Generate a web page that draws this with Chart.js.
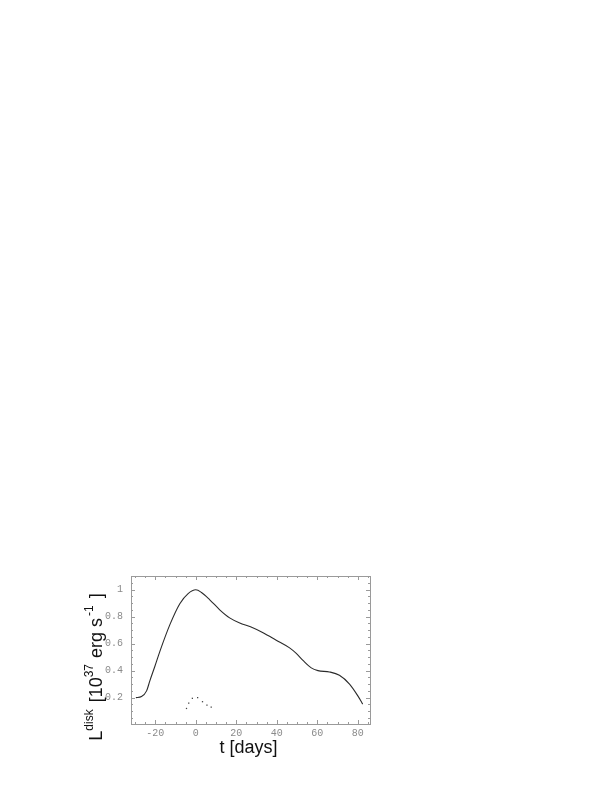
<!DOCTYPE html>
<html>
<head>
<meta charset="utf-8">
<script src="https://cdn.jsdelivr.net/npm/chart.js@4.4.1/dist/chart.umd.min.js"></script>
<style>
  html, body { margin: 0; padding: 0; background: #fff; }
  canvas { display: block; }
</style>
</head>
<body>
<canvas id="diskChart" width="612" height="794"></canvas>
<script>
// light curve, days vs disk luminosity (1e37 erg/s)
const tDays = [-29.6, -26.8, -24.3, -22.7, -20.2, -17.7, -12.8, -7.9, -3.8, 0, 2.8, 6.9, 11.8,
  16.7, 21.7, 27, 33.2, 39.7, 46.3, 49.6, 52.9, 57, 60.3, 66, 70.9, 75.9, 80, 82.4];
const lDisk = [0.2, 0.208, 0.25, 0.324, 0.432, 0.544, 0.74, 0.895, 0.97, 0.998, 0.978, 0.924, 0.85,
  0.79, 0.752, 0.724, 0.68, 0.625, 0.568, 0.527, 0.475, 0.42, 0.4, 0.39, 0.365, 0.3, 0.213, 0.152];

// small dotted bump
const tDots = [-4.6, -3.5, -1.7, 0.9, 3.3, 5.5, 7.6];
const lDots = [0.12, 0.16, 0.195, 0.2, 0.17, 0.145, 0.13];

const xMajor = [-20, 0, 20, 40, 60, 80];
const xMinor = [-30, -25, -15, -10, -5, 5, 10, 15, 25, 30, 35, 45, 50, 55, 65, 70, 75, 85];
const yMajor = [0.2, 0.4, 0.6, 0.8, 1];
const yMinor = [0.05, 0.1, 0.15, 0.25, 0.3, 0.35, 0.45, 0.5, 0.55, 0.65, 0.7, 0.75, 0.85, 0.9, 0.95, 1.05];

const frameColor = '#9a9a9a';

// frame with inward ticks on all four sides
const framePlugin = {
  id: 'frame',
  afterDatasetsDraw(chart) {
    const { ctx, chartArea: a, scales: { x, y } } = chart;
    ctx.save();
    ctx.strokeStyle = frameColor;
    ctx.lineWidth = 1;
    ctx.strokeRect(a.left + 0.5, a.top + 0.5, a.right - a.left, a.bottom - a.top);
    ctx.beginPath();
    const tx = (vals, len) => vals.forEach(v => {
      const px = Math.round(x.getPixelForValue(v)) + 0.5;
      ctx.moveTo(px, a.bottom); ctx.lineTo(px, a.bottom - len);
      ctx.moveTo(px, a.top); ctx.lineTo(px, a.top + len);
    });
    const ty = (vals, len) => vals.forEach(v => {
      const py = Math.round(y.getPixelForValue(v)) + 0.5;
      ctx.moveTo(a.left, py); ctx.lineTo(a.left + len, py);
      ctx.moveTo(a.right, py); ctx.lineTo(a.right - len, py);
    });
    tx(xMajor, 4); tx(xMinor, 2);
    ty(yMajor, 4); ty(yMinor, 2);
    ctx.stroke();
    ctx.restore();
  },
  afterDraw(chart) {
    const { ctx, chartArea: a } = chart;
    ctx.save();
    ctx.fillStyle = '#111';
    ctx.textBaseline = 'alphabetic';

    // x title
    ctx.font = '18px "Liberation Sans", Arial, sans-serif';
    ctx.textAlign = 'center';
    ctx.fillText('t [days]', (a.left + a.right) / 2 - 2, 753);

    // y title with superscripts, rotated
    const big = '18px "Liberation Sans", Arial, sans-serif';
    const small = '12px "Liberation Sans", Arial, sans-serif';
    const parts = [
      ['L', big, 0, 0], ['disk', small, -9, 2], [' [10', big, 0, 0], ['37', small, -9, 1],
      [' erg s', big, 0, 2], ['-1', small, -9, 2], [' ]', big, 0, 0]
    ];
    ctx.textAlign = 'left';
    let total = 0;
    parts.forEach(p => { ctx.font = p[1]; total += ctx.measureText(p[0]).width + p[3]; });
    ctx.translate(102, 667);
    ctx.rotate(-Math.PI / 2);
    let cx = -total / 2;
    parts.forEach(p => {
      ctx.font = p[1];
      ctx.fillText(p[0], cx, p[2]);
      cx += ctx.measureText(p[0]).width + p[3];
    });
    ctx.restore();
  }
};

new Chart(document.getElementById('diskChart'), {
  type: 'scatter',
  data: {
    datasets: [{
      label: 'L disk',
      data: tDays.map((t, i) => ({ x: t, y: lDisk[i] })),
      showLine: true,
      borderColor: '#2a2a2a',
      borderWidth: 1.1,
      pointRadius: 0,
      cubicInterpolationMode: 'monotone'
    }, {
      label: 'dots',
      data: tDots.map((t, i) => ({ x: t, y: lDots[i] })),
      showLine: false,
      pointRadius: 0.9,
      pointStyle: 'rect',
      backgroundColor: '#444',
      borderColor: '#444',
      borderWidth: 0
    }]
  },
  options: {
    responsive: false,
    animation: false,
    events: [],
    layout: { padding: { left: 0, top: 576, right: 242, bottom: 0 } },
    plugins: { legend: { display: false }, tooltip: { enabled: false } },
    scales: {
      x: {
        type: 'linear',
        min: -32,
        max: 86,
        grid: { display: false, drawTicks: false },
        border: { display: false },
        afterBuildTicks: s => { s.ticks = xMajor.map(v => ({ value: v })); },
        afterFit: s => { s.height = 70; },
        ticks: {
          padding: 3,
          color: '#8a8a8a',
          font: { family: '"Liberation Mono", "Courier New", monospace', size: 10 },
          callback: v => String(v)
        }
      },
      y: {
        type: 'linear',
        min: 0.005,
        max: 1.1,
        grid: { display: false, drawTicks: false },
        border: { display: false },
        afterBuildTicks: s => { s.ticks = yMajor.map(v => ({ value: v })); },
        afterFit: s => { s.width = 131; },
        ticks: {
          padding: 8,
          color: '#8a8a8a',
          font: { family: '"Liberation Mono", "Courier New", monospace', size: 10 },
          callback: v => (v === 1 ? '1' : v.toFixed(1))
        }
      }
    }
  },
  plugins: [framePlugin]
});
</script>
</body>
</html>
